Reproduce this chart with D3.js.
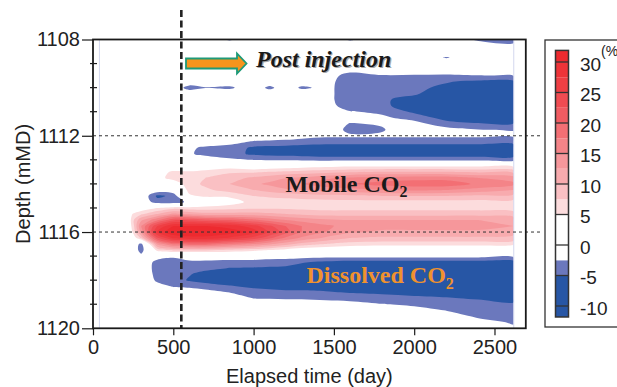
<!DOCTYPE html>
<html>
<head>
<meta charset="utf-8">
<script src="https://cdn.jsdelivr.net/npm/d3@7"></script>
<style>
  body { margin: 0; background: #fff; }
  svg { display: block; }
</style>
</head>
<body>
<svg id="chart" width="617" height="387"></svg>
<script>
// elapsed time of each grid column (day)
const times = [40, 200, 250, 300, 400, 500, 600, 700, 850, 1000, 1100, 1200, 1300, 1450, 1600, 1800, 2000, 2200, 2400, 2620]
// depth of each grid row (mMD), every 0.25 m from 1108 to 1120
const depths = d3.range(1108, 1120.001, 0.25)

// CO2 saturation change (%), one depth profile per time column
// each line: 1108-1108.75 | 1109.. | 1110.. | 1111.. | 1112.. | 1113.. | 1114.. | 1115.. | 1116.. | 1117.. | 1118.. | 1119.. | 1120
const saturation = [
  [0,0,0,0, 0,0,0,0, 0,0,0,0, 0,0,0,0, 0,0,0,0, 0,0,0,0, 0,0,0,0, 0,0,0,0, 0,0,0,0, 0,0,0,0, 0,0,0,0, 0,0,0,0, 0],
  [0,0,0,0, 0,0,0,0, 0,0,0,0, 0,0,0,0, 0,0,0,0, 0,0,0,0, 0,0,0,0, 0,0,0,0, 0,0,0,0, 0,0,0,0, 0,0,0,0, 0,0,0,0, 0],
  [0,0,0,0, 0,0,0,0, 0,0,0,0, 0,0,0,0, 0,0,0,0, 0,0,0,0, 0,0,0,0, 0,5.5,7,6.5, 5.5,3,0,0, 0,0,0,0, 0,0,0,0, 0,0,0,0, 0],
  [0,0,0,0, 0,0,0,0, 0,0,0,0, 0,0,0,0, 0,0,0,0, 0,0,0,0, 0,0,0,0, 3,7,12,15, 13,8,-3.5,-4, -1.5,0,0,0, 0,0,0,0, 0,0,0,0, 0],
  [0,0,0,0, 0,0,0,0, 0,0,0,0, 0,0,0,0, 0,0,0,0, 0,0,3.5,4, 1,-0.5,-5.5,-4, 5,10,17,25, 28,22,13,6, -1,-3.5,-3.8,-3.5, -3,-1.5,0,0, 0,0,0,0, 0],
  [0,0,0,0, 0,0,0,0, 0,0,0,0, 0,0,0,0, 0,0,0,0, 0,2,5.5,6, 3,0,-4.5,-4.5, 6.5,13,22,30, 32,28,18,8, -2,-3.8,-4.2,-4.2, -3.8,-2.7,-1,0, 0,0,0,0, 0],
  [0,0,0,0, 0,0,0,0, -4,0,0,0, 0,0,0,0, 0,0,-2,-2.2, 0,1,5.5,6.5, 6.5,6,4.5,-1.5, 6,12,22,30, 32.5,29,19,8, -1,-3,-4,-4.8, -5.3,-3,-1,0, 0,0,0,0, 0],
  [0,0,0,0, 0,0,0,0, -2.7,0,0,0, 0,0,0,0, 0,-0.5,-3,-3.2, -1,2.5,6,7.5, 8,7,5.5,2, 6,11,21,30, 32.5,29,19,8, -1,-3,-4.2,-6, -6,-3.8,-1.5,0, 0,0,0,0, 0],
  [-3,0,0,0, 0,0,0,0, -3.2,0,0,0, 0,0,0,0, 0,-1.5,-3.5,-4, -2,3.5,7,9, 10,8.5,5.5,3.5, 6.5,11,20,29, 31.5,27,17,7, -0.5,-3.5,-5.1,-7, -6.5,-4.8,-2.6,-0.5, 0,0,0,0, 0],
  [0,0,0,0, 0,0,0,0, 0,0,0,0, 0,0,0,0, -0.5,-2.8,-5.5,-5.5, -2.6,2,7,10.5, 12,10,7.5,6, 7,11,18,26, 29,24,15,6, -0.8,-3.5,-5.2,-7, -7,-5.5,-4,-2.6, -0.5,0,0,0, 0],
  [0,0,0,0, 0,0,0,0, -3.5,0,0,0, 0,0,0,0, -0.8,-3,-5.8,-5.8, -2.8,2.5,7.5,11.5, 13,11,8,6, 7,10.5,16.5,23, 25,20.5,13,5, -1,-3.8,-5.4,-7, -7,-5.8,-4.2,-2.7, -0.8,0,0,0, 0],
  [0,0,0,0, 0,0,0,0, 0,0,0,0, 0,0,0,0, -1,-3.2,-6,-6, -3,3,8,12.5, 14.5,12,8.5,6, 7,10,15,20, 21,17,11,4, -1,-4,-5.5,-7, -7,-6,-4.5,-2.8, -1,0,0,0, 0],
  [0,0,0,0, 0,0,0,0, -3.2,0,0,0, 0,0,0,0, -1.5,-3.6,-6.2,-6.2, -3.2,3.5,8.5,13, 15,12.5,8.8,6.2, 6.8,9.5,14,17.5, 17.5,14.5,9,3, -1.2,-4.7,-6.2,-7, -7,-6,-4.5,-2.8, -1,0,0,0, 0],
  [0,0,0,0, 0,0,-1.2,-1.5, -1.5,-1.5,-1.5,-1.2, -0.5,0,0,0, -2,-4,-6.5,-6.5, -3.5,4,9,14.5, 16.5,13.5,9.2,6.5, 6.5,9,13,15.5, 15,12,7.5,2.5, -1.5,-5.5,-7,-7, -7,-6,-4.8,-3.2, -1.2,0,0,0, 0],
  [-3,0,0,0, 0,-1.5,-3.5,-4, -4.3,-4.3,-4.3,-4, -2.3,-1,-2.7,-3.5, -2,-4,-6.5,-6.5, -3.5,4.5,9.5,15.5, 17.5,14,9.5,6.5, 6.5,9,12.5,14, 13,10,6.5,2, -1.5,-6,-7,-7, -7,-6.5,-5.2,-3.5, -1.5,0,0,0, 0],
  [0,0,0,0, 0,-0.5,-2.7,-4.2, -4.6,-4.8,-4.8,-4.6, -3,-2,-2.2,-2.8, -2,-4,-6.5,-6.5, -3.5,4.5,10,16, 18.5,15,10,6.5, 6.5,9,12.5,13.5, 12,9.5,6,2, -1.5,-6,-7,-7, -7,-6.5,-5.5,-4, -2.4,0,0,0, 0],
  [0,0,0,0, 0,-0.5,-2.8,-4, -4.5,-4.8,-5.5,-6, -5.5,-3.5,-1.5,0, -2,-4,-6.5,-6.5, -3.5,4.5,10,16.5, 19,15.5,10,6.5, 6.5,9,12.5,13.5, 12,9.5,6,2, -1.5,-6,-7,-7, -7,-6.5,-5.8,-4.5, -3,-1.5,0,0, 0],
  [0,0,0,-2.8, 0,-0.5,-3,-4.8, -5.5,-6,-6.5,-6.5, -6.5,-6,-4,-1.5, -2,-4,-6.5,-6.5, -3.5,4.5,10,16.5, 19,15,10,6.5, 6.5,9,12.5,13.5, 12,9.5,6,2, -1.5,-6,-7,-7, -7,-6.5,-6,-4.8, -3.5,-2.6,-1,0, 0],
  [-3,-1,0,0, 0,-0.3,-2.6,-5.5, -7,-7,-7,-7, -7,-6.5,-4.8,-2.4, -2,-4,-6.5,-6.5, -3.5,4.5,9.5,15, 17,14,9.5,6.5, 6.5,9,12.5,13.5, 12,9.5,6,2, -1.5,-6,-7,-7, -7,-7,-6.2,-5.3, -4,-3.5,-3,-1.5, 0],
  [-3.2,-2,0,0, 0,0,-2.3,-5.5, -7,-7,-7,-7, -7,-7,-4.8,-2.6, -2,-4,-6.5,-6.5, -3.5,4,9,13.5, 15.5,12.5,9,6.5, 6,8.5,11.5,12.5, 11,9,5.5,1.5, -1.5,-6,-7,-7, -7,-7,-6.5,-6, -4.5,-3.5,-3.2,-2.8, -2]
]

// colour classes of the legend
const posLevels = [5, 7.5, 10, 12.5, 15, 17.5, 20, 22.5, 25, 27.5, 30]
const posColors = ['#fcdcdd', '#fac0c3', '#f8abae', '#f6979b', '#f48488', '#f36f74',
  '#f15c62', '#f04c52', '#ef3f44', '#ee3439', '#ed2a2f']
const negLevels = [-2.5, -5]
const negColors = ['#6b78bd', '#2756a5']
const legendTicks = [30, 25, 20, 15, 10, 5, 0, -5, -10]

const xTicks = [0, 500, 1000, 1500, 2000, 2500]
const yTicks = [1108, 1112, 1116, 1120]
const injectionEnd = 550
const guideDepths = [1112, 1116]

const svg = d3.select('#chart')
const font = 'Liberation Sans, Arial, sans-serif'
const serif = 'Liberation Serif, Times New Roman, serif'

const x = d3.scaleLinear().domain([0, 2695]).range([93, 525.8])
const y = d3.scaleLinear().domain([1108, 1120]).range([39.5, 328.3])

svg.append('rect').attr('width', 617).attr('height', 387).attr('fill', '#fff')

// grid -> contours
const nx = times.length
const ny = depths.length
const grid = new Array(nx * ny)
for (let j = 0; j < ny; j++) {
  for (let i = 0; i < nx; i++) grid[i + j * nx] = saturation[i][j]
}
const colTime = d3.scaleLinear().domain(d3.range(nx)).range(times)
const rowDepth = d3.scaleLinear().domain(d3.range(ny)).range(depths)

const project = (p) => [
  x(colTime(Math.max(0, Math.min(nx - 1, p[0] - 0.5)))),
  y(rowDepth(Math.max(0, Math.min(ny - 1, p[1] - 0.5))))
]
const ringLine = d3.line().curve(d3.curveCatmullRomClosed.alpha(0.5))
const shapePath = (geom) =>
  geom.coordinates
    .flatMap((poly) => poly.map((ring) => ringLine(ring.slice(0, -1).map(project))))
    .join('')

svg.append('clipPath').attr('id', 'dataClip')
  .append('rect')
  .attr('x', x(times[0])).attr('y', y(1108))
  .attr('width', x(times[nx - 1]) - x(times[0]))
  .attr('height', y(1120) - y(1108))

const field = svg.append('g').attr('clip-path', 'url(#dataClip)')

const negGrid = grid.map((v) => -v)
d3.contours().size([nx, ny]).thresholds(negLevels.map((v) => -v))(negGrid)
  .forEach((c, k) => {
    field.append('path').attr('d', shapePath(c)).attr('fill', negColors[k])
  })
d3.contours().size([nx, ny]).thresholds(posLevels)(grid)
  .forEach((c, k) => {
    field.append('path').attr('d', shapePath(c)).attr('fill', posColors[k])
  })

// faint edges of the data grid
svg.append('g')
  .selectAll('line')
  .data([times[0], times[nx - 1]])
  .join('line')
  .attr('x1', (d) => x(d)).attr('x2', (d) => x(d))
  .attr('y1', y(1108)).attr('y2', y(1120))
  .attr('stroke', '#d3d7ee').attr('stroke-width', 1)

// guide lines
svg.append('g')
  .selectAll('line')
  .data(guideDepths)
  .join('line')
  .attr('x1', x(0)).attr('x2', 541)
  .attr('y1', (d) => y(d)).attr('y2', (d) => y(d))
  .attr('stroke', '#333').attr('stroke-width', 1)
  .attr('stroke-dasharray', '3,3')

svg.append('line')
  .attr('x1', x(injectionEnd)).attr('x2', x(injectionEnd))
  .attr('y1', 10).attr('y2', 328)
  .attr('stroke', '#222').attr('stroke-width', 2.6)
  .attr('stroke-dasharray', '7,3.5')

// frame
svg.append('rect')
  .attr('x', x(0)).attr('y', y(1108))
  .attr('width', x(2695) - x(0)).attr('height', y(1120) - y(1108))
  .attr('fill', 'none').attr('stroke', '#1a1a1a').attr('stroke-width', 1.8)

// axes
const xAxis = svg.append('g').attr('transform', `translate(0,${y(1120)})`)
xAxis.call(d3.axisBottom(x).tickValues(d3.range(0, 2700, 100)).tickSize(4).tickFormat(''))
xAxis.call(d3.axisBottom(x).tickValues(xTicks).tickSize(7).tickPadding(5).tickFormat(d3.format('d')))
xAxis.selectAll('.domain').remove()
xAxis.selectAll('line').attr('stroke', '#1a1a1a').attr('stroke-width', 1.2)
xAxis.selectAll('text').attr('font-family', font).attr('font-size', 20).attr('fill', '#222')

const yAxis = svg.append('g').attr('transform', `translate(${x(0)},0)`)
yAxis.call(d3.axisLeft(y).tickValues(yTicks).tickSize(11).tickPadding(2).tickFormat(d3.format('d')))
yAxis.selectAll('.domain').remove()
yAxis.selectAll('line').attr('stroke', '#1a1a1a').attr('stroke-width', 1.2)
yAxis.selectAll('text').attr('font-family', font).attr('font-size', 20).attr('fill', '#222')
yAxis.append('g')
  .selectAll('line')
  .data(d3.range(1109, 1120, 1).filter((d) => !yTicks.includes(d)))
  .join('line')
  .attr('x1', -3).attr('x2', 4)
  .attr('y1', (d) => y(d)).attr('y2', (d) => y(d))
  .attr('stroke', '#1a1a1a').attr('stroke-width', 1.2)

svg.append('text')
  .attr('x', (x(0) + x(2695)) / 2).attr('y', 383)
  .attr('text-anchor', 'middle')
  .attr('font-family', font).attr('font-size', 20).attr('fill', '#222')
  .text('Elapsed time (day)')

svg.append('text')
  .attr('transform', `translate(30,${y(1114)}) rotate(-90)`)
  .attr('text-anchor', 'middle')
  .attr('font-family', font).attr('font-size', 20).attr('fill', '#222')
  .text('Depth (mMD)')

// annotations
const arrowY = 63.5
svg.append('path')
  .attr('d', `M186,${arrowY - 5} L237,${arrowY - 5} L237,${arrowY - 10} L246.5,${arrowY}
    L237,${arrowY + 10} L237,${arrowY + 5} L186,${arrowY + 5} Z`)
  .attr('fill', '#f7941d').attr('stroke', '#1e9a78').attr('stroke-width', 1.8)
  .attr('stroke-linejoin', 'miter')

const post = svg.append('g')
  .attr('font-family', serif).attr('font-size', 24)
  .attr('font-weight', 'bold').attr('font-style', 'italic')
post.append('text').attr('x', 257.2).attr('y', 68.2).attr('fill', '#a8a8a8').text('Post injection')
post.append('text').attr('x', 256).attr('y', 67).attr('fill', '#1a1a1a').text('Post injection')

function co2Label(tx, ty, name, color) {
  const t = svg.append('text')
    .attr('x', tx).attr('y', ty)
    .attr('font-family', serif).attr('font-size', 24).attr('font-weight', 'bold')
    .attr('fill', color)
  t.append('tspan').text(name + ' CO')
  t.append('tspan').attr('font-size', 16).attr('dy', 5.5).text('2')
}
co2Label(285.5, 191.5, 'Mobile', '#1a1a1a')
co2Label(306.5, 283, 'Dissolved', '#f0922e')

// colour bar
svg.append('rect')
  .attr('x', 545).attr('y', 40).attr('width', 90).attr('height', 287)
  .attr('fill', '#fff').attr('stroke', '#333').attr('stroke-width', 1.3)

const cy = d3.scaleLinear().domain([-10, 30]).range([306, 62])
const barStops = [-11.8, -10, -5, -2.5, 0, 2.5, 5, 7.5, 10, 12.5, 15, 17.5, 20, 22.5, 25, 27.5, 30, 31.9]
const colorOf = (v) => {
  if (v < -5) return negColors[1]
  if (v < -2.5) return negColors[0]
  if (v < 5) return '#ffffff'
  let k = 0
  posLevels.forEach((l, i) => { if (v >= l) k = i })
  return posColors[k]
}
const bar = svg.append('g')
bar.selectAll('rect')
  .data(d3.pairs(barStops))
  .join('rect')
  .attr('x', 555.5).attr('width', 13)
  .attr('y', (d) => cy(d[1])).attr('height', (d) => cy(d[0]) - cy(d[1]))
  .attr('fill', (d) => colorOf((d[0] + d[1]) / 2))
bar.selectAll('line')
  .data(legendTicks)
  .join('line')
  .attr('x1', 555.5).attr('x2', 568.5)
  .attr('y1', (d) => cy(d)).attr('y2', (d) => cy(d))
  .attr('stroke', '#333').attr('stroke-width', 1.3)
bar.append('rect')
  .attr('x', 555.5).attr('y', cy(31.9)).attr('width', 13).attr('height', cy(-11.8) - cy(31.9))
  .attr('fill', 'none').attr('stroke', '#333').attr('stroke-width', 1.5)

svg.append('g')
  .selectAll('text')
  .data(legendTicks)
  .join('text')
  .attr('x', 580).attr('y', (d) => cy(d) + 8.5)
  .attr('font-family', font).attr('font-size', 19).attr('fill', '#222')
  .text((d) => d)

svg.append('text')
  .attr('x', 601).attr('y', 56)
  .attr('font-family', font).attr('font-size', 14).attr('fill', '#222')
  .text('(%')
</script>
</body>
</html>
